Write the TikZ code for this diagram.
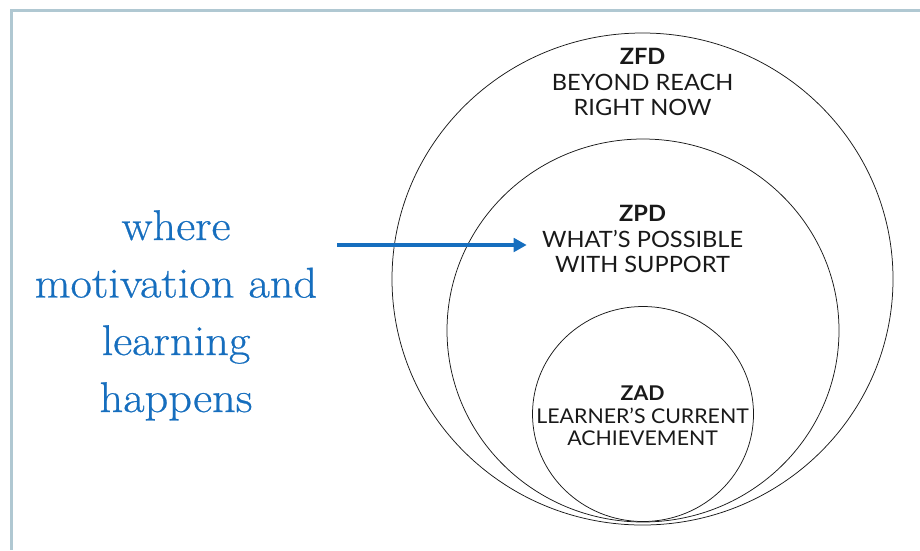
\documentclass[tikz,border=0pt]{standalone}
\usepackage{fontspec}
\setsansfont[FakeStretch=1.05]{Lato}
\newfontfamily\bluefont[FakeStretch=1.08,FakeBold=0.6]{Latin Modern Roman}
\usetikzlibrary{shapes.geometric,arrows.meta}
\definecolor{frameblue}{RGB}{176,200,210}
\definecolor{textblue}{RGB}{22,110,190}
\definecolor{ink}{RGB}{25,25,25}
\tikzset{
  zone/.style={ellipse,draw=ink,line width=0.75pt,inner sep=0pt},
  zhead/.style={anchor=base,font=\sffamily\bfseries\fontsize{22.5}{25}\selectfont,text=ink,inner sep=0pt},
  zline/.style={anchor=base,font=\sffamily\fontsize{22.5}{25}\selectfont,text=ink,inner sep=0pt},
  zheadsm/.style={anchor=base,font=\sffamily\bfseries\fontsize{20.3}{23}\selectfont,text=ink,inner sep=0pt},
  zlinesm/.style={anchor=base,font=\sffamily\fontsize{20.3}{23}\selectfont,text=ink,inner sep=0pt},
  bluetext/.style={anchor=base,font=\bluefont\fontsize{43}{57}\selectfont,text=textblue,inner sep=0pt},
  bluearrow/.style={draw=textblue,line width=4pt,-{Triangle[length=13pt,width=13.5pt]}}
}
\begin{document}
\begin{tikzpicture}[x=1pt,y=-1pt]
\useasboundingbox (0,0) rectangle (920,550);
% frame
\draw[frameblue,line width=3pt] (11.3,550) -- (11.3,10.3) -- (920,10.3);
% zones
\node[zone,minimum width=501pt,minimum height=492pt] (zfd) at (642.5,279) {};
\node[zone,minimum width=392pt,minimum height=383pt] (zpd) at (643,330.5) {};
\node[zone,minimum width=221pt,minimum height=215pt] (zad) at (643,414) {};
% ZFD text
\node[zhead] (zfdT) at (642.6,64.8) {ZFD};
\node[zline] (zfdA) at (642.6,90.3) {BEYOND REACH};
\node[zline] (zfdB) at (642.6,115.5) {RIGHT NOW};
% ZPD text
\node[zhead] (zpdT) at (642.6,221.4) {ZPD};
\node[zline] (zpdA) at (642.6,247.2) {WHAT’S POSSIBLE};
\node[zline] (zpdB) at (642.6,272.4) {WITH SUPPORT};
% ZAD text
\node[zheadsm] (zadT) at (642.6,400) {ZAD};
\node[zlinesm] (zadA) at (642.6,423.4) {LEARNER’S CURRENT};
\node[zlinesm] (zadB) at (642.6,445.9) {ACHIEVEMENT};
% blue text
\node[bluetext] (b1) at (176,240) {where};
\node[bluetext] (b2) at (176,297.5) {motivation and};
\node[bluetext] (b3) at (176,355) {learning};
\node[bluetext] (b4) at (176,412) {happens};
% arrow
\coordinate (arrS) at (337.3,245);
\coordinate (arrE) at (526.7,245);
\draw[bluearrow] (arrS) -- (arrE);
\end{tikzpicture}
\end{document}
